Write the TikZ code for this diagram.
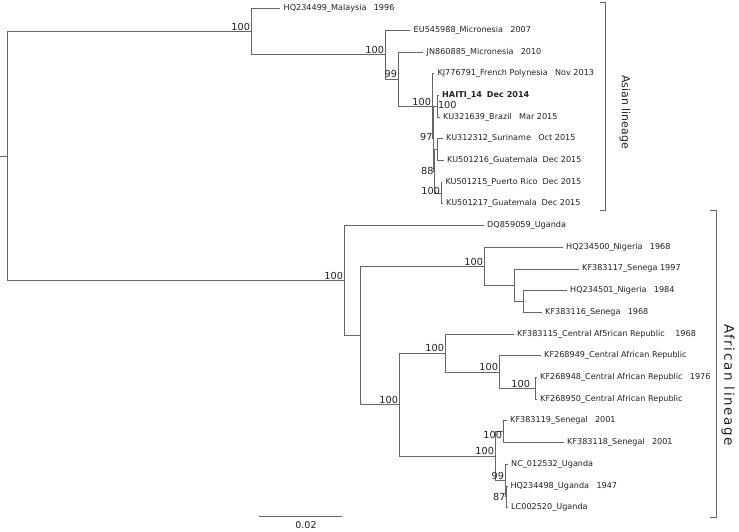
\documentclass[tikz,border=0pt]{standalone}
\usepackage{fontspec}
\setmainfont{DejaVu Sans}
\definecolor{linegray}{HTML}{666666}
\definecolor{txt}{HTML}{222222}
\begin{document}
\begin{tikzpicture}[x=1pt,y=-1pt,
  br/.style={draw=linegray, line width=0.7pt},
  lbl/.style={anchor=west, inner sep=0pt, xshift=3.5pt, font=\fontsize{8.1}{9}\selectfont, text=txt},
  bs/.style={inner sep=0.8pt, font=\fontsize{9.7}{10}\selectfont, text=txt},
  lin/.style={rotate=-90, inner sep=0pt, font=\fontsize{11}{12}\selectfont, text=txt}]
\useasboundingbox (0,0) rectangle (739,531);
% ---- coordinates
\coordinate (r0) at (0,156);
\coordinate (root) at (7,156);
% Asian
\coordinate (AR) at (251,31.55);
\coordinate (tMal) at (280,8.5);
\coordinate (N1) at (385,54.6);
\coordinate (tEU) at (410,30.2);
\coordinate (N2) at (398,79);
\coordinate (tJN) at (423,51.9);
\coordinate (A) at (432,106.15);
\coordinate (tKJ) at (433.8,73.6);
\coordinate (B) at (433.5,138.7);
\coordinate (H) at (437,106.15);
\coordinate (tHA) at (438.5,95.3);
\coordinate (tBR) at (439.5,117);
\coordinate (C) at (434.5,171.25);
\coordinate (D) at (437.5,149.55);
\coordinate (tSU) at (442.5,138.7);
\coordinate (tGU1) at (443.5,160.4);
\coordinate (E) at (441,192.95);
\coordinate (tPR) at (441.8,182.1);
\coordinate (tGU2) at (442.5,203.8);
% African
\coordinate (X) at (344,280.4);
\coordinate (tDQ) at (483.5,225.5);
\coordinate (Y) at (360,335.35);
\coordinate (Z) at (484,266.2);
\coordinate (tN1) at (562.5,247.2);
\coordinate (Z2) at (514,285.2);
\coordinate (tS1) at (578.5,268.9);
\coordinate (Z3) at (523,301.45);
\coordinate (tN2) at (566.5,290.6);
\coordinate (tS2) at (541.5,312.3);
\coordinate (W) at (399,404.5);
\coordinate (T) at (445,353);
\coordinate (tC1) at (513.5,334);
\coordinate (V) at (499,372);
\coordinate (tC2) at (540.5,355.7);
\coordinate (U) at (535,388.25);
\coordinate (tC3) at (536.5,377.4);
\coordinate (tC4) at (536.5,399.1);
\coordinate (R) at (495,456.1);
\coordinate (S) at (503,431.65);
\coordinate (tSe1) at (506.5,420.8);
\coordinate (tSe2) at (563.5,442.5);
\coordinate (P) at (505,480.5);
\coordinate (tU1) at (507.5,464.2);
\coordinate (Q) at (506.5,496.75);
\coordinate (tU2) at (506.8,485.9);
\coordinate (tU3) at (507.5,507.6);
% ---- branches
\draw[br] (r0) -- (root);
\draw[br] (root) |- (AR);
\draw[br] (root) |- (X);
\draw[br] (AR) |- (tMal);
\draw[br] (AR) |- (N1);
\draw[br] (N1) |- (tEU);
\draw[br] (N1) |- (N2);
\draw[br] (N2) |- (tJN);
\draw[br] (N2) |- (A);
\draw[br] (A) |- (tKJ);
\draw[br] (A) |- (B);
\draw[br] (B) |- (H);
\draw[br] (B) |- (C);
\draw[br] (H) |- (tHA);
\draw[br] (H) |- (tBR);
\draw[br] (C) |- (D);
\draw[br] (C) |- (E);
\draw[br] (D) |- (tSU);
\draw[br] (D) |- (tGU1);
\draw[br] (E) |- (tPR);
\draw[br] (E) |- (tGU2);
\draw[br] (X) |- (tDQ);
\draw[br] (X) |- (Y);
\draw[br] (Y) |- (Z);
\draw[br] (Y) |- (W);
\draw[br] (Z) |- (tN1);
\draw[br] (Z) |- (Z2);
\draw[br] (Z2) |- (tS1);
\draw[br] (Z2) |- (Z3);
\draw[br] (Z3) |- (tN2);
\draw[br] (Z3) |- (tS2);
\draw[br] (W) |- (T);
\draw[br] (W) |- (R);
\draw[br] (T) |- (tC1);
\draw[br] (T) |- (V);
\draw[br] (V) |- (tC2);
\draw[br] (V) |- (U);
\draw[br] (U) |- (tC3);
\draw[br] (U) |- (tC4);
\draw[br] (R) |- (S);
\draw[br] (R) |- (P);
\draw[br] (S) |- (tSe1);
\draw[br] (S) |- (tSe2);
\draw[br] (P) |- (tU1);
\draw[br] (P) |- (Q);
\draw[br] (Q) |- (tU2);
\draw[br] (Q) |- (tU3);
% ---- tip labels
\node[lbl] (lMal) at (tMal) {HQ234499\_Malaysia\hspace{0.9em}1996};
\node[lbl] (lEU) at (tEU) {EU545988\_Micronesia\hspace{0.9em}2007};
\node[lbl] (lJN) at (tJN) {JN860885\_Micronesia\hspace{0.9em}2010};
\node[lbl] (lKJ) at (tKJ) {KJ776791\_French Polynesia\hspace{0.9em}Nov 2013};
\node[lbl, font=\fontsize{8.1}{9}\selectfont\bfseries] (lHA) at (tHA) {HAITI\_14\hspace{0.6em}Dec 2014};
\node[lbl] (lBR) at (tBR) {KU321639\_Brazil\hspace{0.9em}Mar 2015};
\node[lbl] (lSU) at (tSU) {KU312312\_Suriname\hspace{0.9em}Oct 2015};
\node[lbl] (lGU1) at (tGU1) {KU501216\_Guatemala\hspace{0.6em}Dec 2015};
\node[lbl] (lPR) at (tPR) {KU501215\_Puerto Rico\hspace{0.6em}Dec 2015};
\node[lbl] (lGU2) at (tGU2) {KU501217\_Guatemala\hspace{0.6em}Dec 2015};
\node[lbl] (lDQ) at (tDQ) {DQ859059\_Uganda};
\node[lbl] (lN1) at (tN1) {HQ234500\_Nigeria\hspace{0.9em}1968};
\node[lbl] (lS1) at (tS1) {KF383117\_Senega 1997};
\node[lbl] (lN2) at (tN2) {HQ234501\_Nigeria\hspace{0.9em}1984};
\node[lbl] (lS2) at (tS2) {KF383116\_Senega\hspace{0.9em}1968};
\node[lbl] (lC1) at (tC1) {KF383115\_Central Af5rican Republic\hspace{1.3em}1968};
\node[lbl] (lC2) at (tC2) {KF268949\_Central African Republic};
\node[lbl] (lC3) at (tC3) {KF268948\_Central African Republic\hspace{0.9em}1976};
\node[lbl] (lC4) at (tC4) {KF268950\_Central African Republic};
\node[lbl] (lSe1) at (tSe1) {KF383119\_Senegal\hspace{0.9em}2001};
\node[lbl] (lSe2) at (tSe2) {KF383118\_Senegal\hspace{0.9em}2001};
\node[lbl] (lU1) at (tU1) {NC\_012532\_Uganda};
\node[lbl] (lU2) at (tU2) {HQ234498\_Uganda\hspace{0.9em}1947};
\node[lbl] (lU3) at (tU3) {LC002520\_Uganda};
% ---- bootstrap values
\node[bs, anchor=south east] (bAR) at (AR) {100};
\node[bs, anchor=south east] (bN1) at (N1) {100};
\node[bs, anchor=south east] (bN2) at (N2) {99};
\node[bs, anchor=south east] (bA) at (A) {100};
\node[bs, anchor=east] (bB) at ([yshift=2pt]B) {97};
\node[bs, anchor=west] (bH) at ([yshift=1pt]H) {100};
\node[bs, anchor=east] (bC) at (C) {88};
\node[bs, anchor=east] (bE) at ([yshift=1.5pt]E) {100};
\node[bs, anchor=south east] (bX) at (X) {100};
\node[bs, anchor=south east] (bZ) at (Z) {100};
\node[bs, anchor=south east] (bW) at (W) {100};
\node[bs, anchor=south east] (bT) at (T) {100};
\node[bs, anchor=south east] (bV) at (V) {100};
\node[bs, anchor=south east, xshift=-4pt] (bU) at (U) {100};
\node[bs, anchor=south east] (bR) at (R) {100};
\node[bs, anchor=east] (bS) at ([yshift=-3pt]S) {100};
\node[bs, anchor=south east] (bP) at (P) {99};
\node[bs, anchor=east] (bQ) at (Q) {87};
% ---- lineage brackets
\coordinate (a1) at (600,2);
\coordinate (a2) at (605,2);
\coordinate (a3) at (605,210);
\coordinate (a4) at (600,210);
\draw[br] (a1) -- (a2) -- (a3) -- (a4);
\node[lin] (lAs) at (625,112) {Asian lineage};
\coordinate (f1) at (710,210);
\coordinate (f2) at (716,210);
\coordinate (f3) at (716,517);
\coordinate (f4) at (710,517);
\draw[br] (f1) -- (f2) -- (f3) -- (f4);
\node[lin, font=\fontsize{13.5}{14}\selectfont\addfontfeature{LetterSpace=12}] (lAf) at (728,385) {African lineage};
% ---- scale bar
\coordinate (s1) at (259,516);
\coordinate (s2) at (342,516);
\draw[br] (s1) -- (s2);
\node[bs, anchor=center, font=\fontsize{9.5}{10}\selectfont] (sl) at (306,525) {0.02};
\end{tikzpicture}
\end{document}
